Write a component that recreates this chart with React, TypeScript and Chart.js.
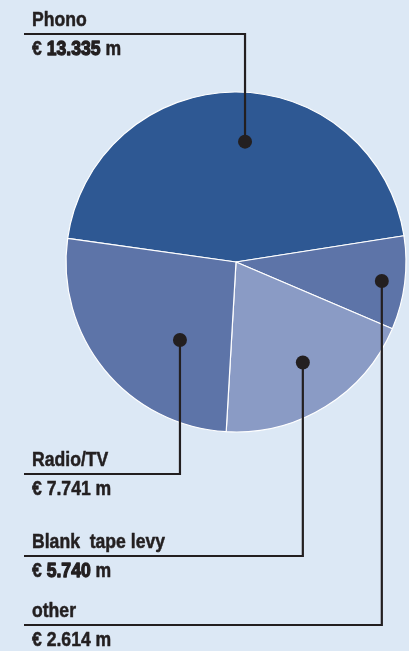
import React, { useEffect, useRef } from "react";
import { Chart, registerables } from "chart.js";

Chart.register(...registerables);

// ---- data (clockwise drawing order) ----
const categories = ["Phono", "other", "Blank  tape levy", "Radio/TV"];
const valuesMillionEUR = [13.335, 2.614, 5.74, 7.741];
const valueNumberText = ["13.335", "2.614", "5.740", "7.741"];
const currencyPrefix = "€ ";
const unitSuffix = " m";

// ---- styles / layout ----
const sliceColors = ["#2e5893", "#5d74a8", "#8a9bc5", "#5d74a8"];
const heavyNumber = [true, false, true, false];
const BG = "#dce8f5";
const INK = "#231f20";
// dot location inside each slice: fraction of the slice angle, fraction of radius
const dotPlacement = [
  { a: 0.529, r: 0.71 },
  { a: 0.51, r: 0.865 },
  { a: 0.474, r: 0.71 },
  { a: 0.342, r: 0.565 },
];
const calloutLineY = [34, 625, 556, 474];
const LINE_X0 = 24;
const TEXT_X = 32;

function pickFont(): { family: string; scaleX: number } {
  const c = document.createElement("canvas").getContext("2d")!;
  c.font = "bold 20px 'Liberation Sans Narrow', monospace";
  const w1 = c.measureText("Phono abc 13").width;
  c.font = "bold 20px monospace";
  const w2 = c.measureText("Phono abc 13").width;
  if (Math.abs(w1 - w2) > 0.5) return { family: "'Liberation Sans Narrow'", scaleX: 1.07 };
  return { family: "'Liberation Sans', Arial", scaleX: 0.88 };
}

export default function App() {
  const ref = useRef<HTMLCanvasElement>(null);

  useEffect(() => {
    document.body.style.margin = "0";
    document.body.style.background = BG;
    const font = pickFont();
    const FONT_SIZE = 20;

    // draws text runs horizontally scaled; heavy runs get an extra stroke
    const drawRuns = (
      ctx: CanvasRenderingContext2D,
      runs: { s: string; heavy: boolean }[],
      x: number,
      y: number
    ) => {
      ctx.save();
      ctx.translate(x, y);
      ctx.scale(font.scaleX, 1);
      let cx = 0;
      for (const r of runs) {
        ctx.lineWidth = r.heavy ? 1.3 : 0.5;
        ctx.lineJoin = "round";
        ctx.strokeText(r.s, cx, 0);
        ctx.fillText(r.s, cx, 0);
        cx += ctx.measureText(r.s).width;
      }
      ctx.restore();
    };

    const callouts = {
      id: "callouts",
      afterDatasetsDraw(chart: any) {
        const ctx: CanvasRenderingContext2D = chart.ctx;
        const meta = chart.getDatasetMeta(0);
        meta.data.forEach((arc: any, i: number) => {
          const p = arc.getProps(["x", "y", "startAngle", "endAngle", "outerRadius"], true);
          const pl = dotPlacement[i];
          const ang = p.startAngle + (p.endAngle - p.startAngle) * pl.a;
          const px = p.x + Math.cos(ang) * p.outerRadius * pl.r;
          const py = p.y + Math.sin(ang) * p.outerRadius * pl.r;
          const ly = calloutLineY[i];
          ctx.save();
          ctx.strokeStyle = INK;
          ctx.fillStyle = INK;
          ctx.lineWidth = 2.2;
          ctx.lineJoin = "miter";
          ctx.beginPath();
          ctx.moveTo(px, py);
          ctx.lineTo(px, ly);
          ctx.lineTo(LINE_X0, ly);
          ctx.stroke();
          ctx.beginPath();
          ctx.arc(px, py, 7, 0, Math.PI * 2);
          ctx.fill();
          ctx.font = `bold ${FONT_SIZE}px ${font.family}`;
          ctx.textBaseline = "alphabetic";
          ctx.textAlign = "left";
          drawRuns(ctx, [{ s: categories[i], heavy: false }], TEXT_X, ly - 8);
          drawRuns(
            ctx,
            [
              { s: currencyPrefix, heavy: false },
              { s: valueNumberText[i], heavy: heavyNumber[i] },
              { s: unitSuffix, heavy: false },
            ],
            TEXT_X,
            ly + 21
          );
          ctx.restore();
        });
      },
    };

    const chart = new Chart(ref.current!, {
      type: "pie",
      data: {
        labels: categories,
        datasets: [
          {
            data: valuesMillionEUR,
            backgroundColor: sliceColors,
            borderColor: "#ffffff",
            borderWidth: 1.2,
          },
        ],
      },
      options: {
        responsive: false,
        animation: false,
        rotation: -82,
        radius: 170,
        layout: { padding: { left: 66, right: 3, top: 92, bottom: 219 } },
        plugins: {
          legend: { display: false },
          tooltip: { enabled: false },
        },
      },
      plugins: [callouts],
    });
    return () => chart.destroy();
  }, []);

  return (
    <div style={{ width: 409, height: 651, background: BG }}>
      <canvas ref={ref} width={409} height={651} style={{ display: "block" }} />
    </div>
  );
}
